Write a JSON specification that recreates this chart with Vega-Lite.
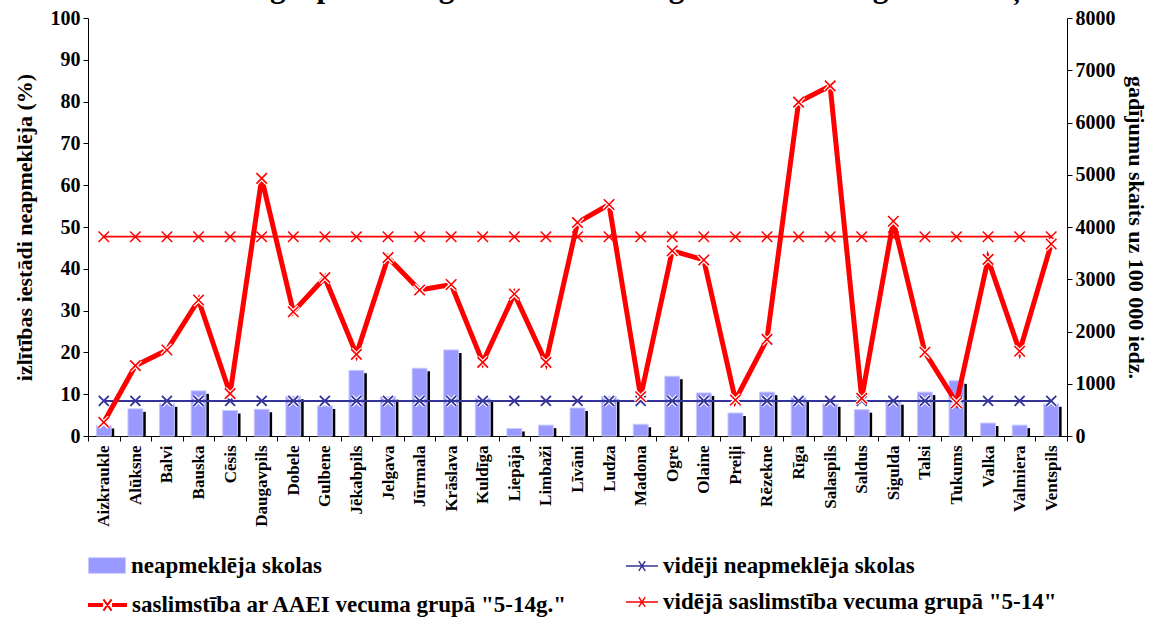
{
  "$schema": "https://vega.github.io/schema/vega-lite/v6.json",
  "width": 979,
  "height": 418,
  "autosize": {"type": "none"},
  "padding": {"left": 88, "top": 18, "right": 92, "bottom": 181},
  "background": "white",
  "title": {
    "text": "vecuma grupā \"5-14 gadi\" 2007./2008.gada monitoringa 39.nedēļa",
    "font": "Liberation Serif",
    "fontSize": 31,
    "fontWeight": "bold",
    "color": "black",
    "anchor": "middle",
    "baseline": "alphabetic",
    "offset": 0,
    "dy": 20,
    "dx": 21
  },
  "config": {
    "view": {"stroke": null},
    "font": "Liberation Serif",
    "axis": {
      "labelFont": "Liberation Serif",
      "labelFontWeight": "bold",
      "labelColor": "black",
      "titleFont": "Liberation Serif",
      "titleFontWeight": "bold",
      "titleColor": "black",
      "domainColor": "black",
      "tickColor": "black",
      "tickSize": 5,
      "grid": false
    },
    "legend": {
      "labelFont": "Liberation Serif",
      "labelFontWeight": "bold",
      "labelFontSize": 23,
      "labelColor": "black",
      "labelLimit": 700,
      "title": null,
      "orient": "none",
      "padding": 0
    }
  },
  "data": {
    "values": [
      {"raj": "Aizkraukle", "skolas": 2.5, "sasl": 262, "avg_skolas": 8.4, "avg_sasl": 3815},
      {"raj": "Alūksne", "skolas": 6.5, "sasl": 1346, "avg_skolas": 8.4, "avg_sasl": 3815},
      {"raj": "Balvi", "skolas": 7.7, "sasl": 1646, "avg_skolas": 8.4, "avg_sasl": 3815},
      {"raj": "Bauska", "skolas": 10.8, "sasl": 2603, "avg_skolas": 8.4, "avg_sasl": 3815},
      {"raj": "Cēsis", "skolas": 6.1, "sasl": 810, "avg_skolas": 8.4, "avg_sasl": 3815},
      {"raj": "Daugavpils", "skolas": 6.4, "sasl": 4930, "avg_skolas": 8.4, "avg_sasl": 3815},
      {"raj": "Dobele", "skolas": 9.5, "sasl": 2379, "avg_skolas": 8.4, "avg_sasl": 3815},
      {"raj": "Gulbene", "skolas": 7.2, "sasl": 3030, "avg_skolas": 8.4, "avg_sasl": 3815},
      {"raj": "Jēkabpils", "skolas": 15.7, "sasl": 1563, "avg_skolas": 8.4, "avg_sasl": 3815},
      {"raj": "Jelgava", "skolas": 9.4, "sasl": 3415, "avg_skolas": 8.4, "avg_sasl": 3815},
      {"raj": "Jūrmala", "skolas": 16.2, "sasl": 2794, "avg_skolas": 8.4, "avg_sasl": 3815},
      {"raj": "Krāslava", "skolas": 20.6, "sasl": 2900, "avg_skolas": 8.4, "avg_sasl": 3815},
      {"raj": "Kuldīga", "skolas": 9.0, "sasl": 1410, "avg_skolas": 8.4, "avg_sasl": 3815},
      {"raj": "Liepāja", "skolas": 1.8, "sasl": 2718, "avg_skolas": 8.4, "avg_sasl": 3815},
      {"raj": "Limbaži", "skolas": 2.6, "sasl": 1410, "avg_skolas": 8.4, "avg_sasl": 3815},
      {"raj": "Līvāni", "skolas": 6.7, "sasl": 4085, "avg_skolas": 8.4, "avg_sasl": 3815},
      {"raj": "Ludza", "skolas": 9.4, "sasl": 4430, "avg_skolas": 8.4, "avg_sasl": 3815},
      {"raj": "Madona", "skolas": 2.8, "sasl": 752, "avg_skolas": 8.4, "avg_sasl": 3815},
      {"raj": "Ogre", "skolas": 14.3, "sasl": 3545, "avg_skolas": 8.4, "avg_sasl": 3815},
      {"raj": "Olaine", "skolas": 10.3, "sasl": 3369, "avg_skolas": 8.4, "avg_sasl": 3815},
      {"raj": "Preiļi", "skolas": 5.5, "sasl": 689, "avg_skolas": 8.4, "avg_sasl": 3815},
      {"raj": "Rēzekne", "skolas": 10.5, "sasl": 1850, "avg_skolas": 8.4, "avg_sasl": 3815},
      {"raj": "Rīga", "skolas": 9.2, "sasl": 6390, "avg_skolas": 8.4, "avg_sasl": 3815},
      {"raj": "Salaspils", "skolas": 7.7, "sasl": 6700, "avg_skolas": 8.4, "avg_sasl": 3815},
      {"raj": "Saldus", "skolas": 6.3, "sasl": 721, "avg_skolas": 8.4, "avg_sasl": 3815},
      {"raj": "Sigulda", "skolas": 8.2, "sasl": 4110, "avg_skolas": 8.4, "avg_sasl": 3815},
      {"raj": "Talsi", "skolas": 10.5, "sasl": 1602, "avg_skolas": 8.4, "avg_sasl": 3815},
      {"raj": "Tukums", "skolas": 13.2, "sasl": 637, "avg_skolas": 8.4, "avg_sasl": 3815},
      {"raj": "Valka", "skolas": 3.1, "sasl": 3380, "avg_skolas": 8.4, "avg_sasl": 3815},
      {"raj": "Valmiera", "skolas": 2.6, "sasl": 1621, "avg_skolas": 8.4, "avg_sasl": 3815},
      {"raj": "Ventspils", "skolas": 7.7, "sasl": 3675, "avg_skolas": 8.4, "avg_sasl": 3815}
    ]
  },
  "encoding": {
    "x": {
      "field": "raj",
      "type": "nominal",
      "sort": null,
      "scale": {"paddingInner": 0, "paddingOuter": 0},
      "axis": {
        "title": null,
        "labelAngle": -90,
        "labelFontSize": 17,
        "labelPadding": 4,
        "tickBand": "extent"
      }
    }
  },
  "layer": [
    {
      "encoding": {
        "y": {
          "type": "quantitative",
          "scale": {"domain": [0, 100]},
          "axis": {
            "title": "izlītības iestādi neapmeklēja (%)",
            "titleFontSize": 22,
            "titlePadding": 14,
            "labelFontSize": 20,
            "labelPadding": 3,
            "values": [0, 10, 20, 30, 40, 50, 60, 70, 80, 90, 100]
          }
        }
      },
      "layer": [
        {
          "mark": {"type": "bar", "color": "black", "width": {"band": 0.47}, "xOffset": 3, "yOffset": 3, "clip": true},
          "encoding": {"y": {"field": "skolas", "type": "quantitative"}}
        },
        {
          "mark": {"type": "bar", "width": {"band": 0.47}, "stroke": "#C8C8FF", "strokeWidth": 1},
          "encoding": {
            "y": {"field": "skolas", "type": "quantitative"},
            "fill": {
              "datum": "neapmeklēja skolas",
              "type": "nominal",
              "scale": {"domain": ["neapmeklēja skolas"], "range": ["#9999FF"]},
              "legend": {
                "legendX": 0,
                "legendY": 528.5,
                "symbolType": "M-1,-0.42H1V0.42H-1Z",
                "symbolSize": 1369,
                "symbolStrokeWidth": 1,
                "labelOffset": 5
              }
            }
          }
        },
        {
          "mark": {"type": "point", "shape": "M-1,-1L1,1M-1,1L1,-1", "filled": false, "size": 100, "strokeWidth": 4, "color": "white", "opacity": 1},
          "encoding": {"y": {"field": "avg_skolas", "type": "quantitative"}}
        },
        {
          "mark": {"type": "line", "strokeWidth": 2, "point": {"shape": "M-1,-1L1,1M-1,1L1,-1", "filled": false, "size": 100, "strokeWidth": 1.8, "opacity": 1}},
          "encoding": {
            "y": {"field": "avg_skolas", "type": "quantitative"},
            "stroke": {
              "datum": "vidēji neapmeklēja skolas",
              "type": "nominal",
              "scale": {
                "domain": ["vidēji neapmeklēja skolas", "vidējā saslimstība vecuma grupā \"5-14\""],
                "range": ["#333399", "#FF0000"]
              },
              "legend": {
                "legendX": 537,
                "legendY": 531,
                "symbolType": "M-1,0H1M-0.2,-0.3L0.2,0.3M-0.2,0.3L0.2,-0.3",
                "symbolSize": 1024,
                "symbolStrokeWidth": 1.5,
                "rowPadding": 7,
                "labelOffset": 4
              }
            }
          }
        }
      ]
    },
    {
      "encoding": {
        "y": {
          "type": "quantitative",
          "scale": {"domain": [0, 8000]},
          "axis": {
            "orient": "right",
            "format": "d",
            "title": "gadījumu skaits uz 100 000 iedz.",
            "titleFontSize": 22,
            "titlePadding": 8,
            "labelFontSize": 20,
            "labelPadding": 3,
            "values": [0, 1000, 2000, 3000, 4000, 5000, 6000, 7000, 8000]
          }
        }
      },
      "layer": [
        {
          "mark": {"type": "line", "strokeWidth": 1.8, "point": {"shape": "M-1,-1L1,1M-1,1L1,-1", "filled": false, "size": 110, "strokeWidth": 1.5, "opacity": 1}},
          "encoding": {
            "y": {"field": "avg_sasl", "type": "quantitative"},
            "stroke": {"datum": "vidējā saslimstība vecuma grupā \"5-14\"", "type": "nominal"}
          }
        },
        {
          "mark": {"type": "line", "strokeWidth": 5},
          "encoding": {
            "y": {"field": "sasl", "type": "quantitative"},
            "color": {
              "datum": "saslimstība ar AAEI vecuma grupā \"5-14g.\"",
              "type": "nominal",
              "scale": {"domain": ["saslimstība ar AAEI vecuma grupā \"5-14g.\""], "range": ["#FF0000"]},
              "legend": {
                "legendX": 0,
                "legendY": 567.5,
                "symbolType": "M-1,-0.06H-0.3V0.06H-1ZM0.3,-0.06H1V0.06H0.3ZM-0.22,-0.3L0.22,0.3M-0.22,0.3L0.22,-0.3",
                "symbolSize": 1369,
                "symbolStrokeWidth": 2,
                "labelOffset": 5
              }
            }
          }
        },
        {
          "mark": {"type": "point", "shape": "M-1,-1L1,1M-1,1L1,-1", "filled": false, "size": 110, "strokeWidth": 4, "color": "white", "opacity": 1},
          "encoding": {"y": {"field": "sasl", "type": "quantitative"}}
        },
        {
          "mark": {"type": "point", "shape": "M-1,-1L1,1M-1,1L1,-1", "filled": false, "size": 110, "strokeWidth": 1.6, "color": "#FF0000", "opacity": 1},
          "encoding": {"y": {"field": "sasl", "type": "quantitative"}}
        }
      ]
    }
  ],
  "resolve": {"scale": {"y": "independent"}}
}
